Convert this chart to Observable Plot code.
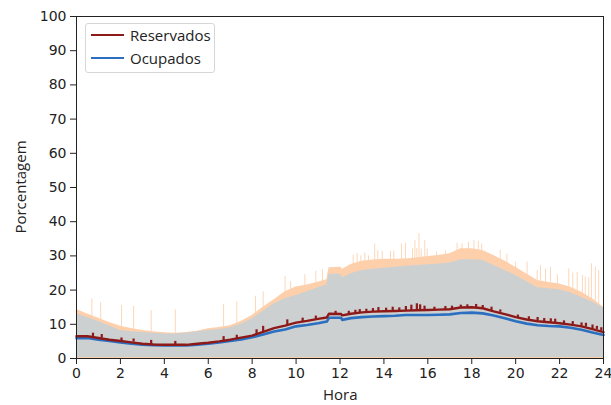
<!DOCTYPE html>
<html>
<head>
<meta charset="utf-8">
<script src="https://cdn.jsdelivr.net/npm/d3@7"></script>
<script src="https://cdn.jsdelivr.net/npm/@observablehq/plot@0.6"></script>
<style>
  html, body { margin: 0; padding: 0; background: #fff; }
  #wrap { position: relative; width: 611px; height: 405px; }
  .lab { position: absolute; font-family: "Open Sans", sans-serif; font-size: 15px; color: #222; white-space: nowrap; }
  #legend { position: absolute; left: 85px; top: 23px; width: 128px; height: 48px; border: 1px solid #d6d6d6; border-radius: 3px; background: rgba(255,255,255,0.85); }
  .row { position: absolute; left: 5px; height: 20px; display: flex; align-items: center; font-family: "Open Sans", sans-serif; font-size: 15px; color: #222; }
  .sw { width: 33px; height: 2.5px; margin-right: 6px; }
</style>
</head>
<body>
<div id="wrap"></div>
<script>
const hours = [0,0.5,1,1.5,2,2.5,3,3.5,4,4.5,5,5.5,6,6.5,7,7.5,8,8.5,9,9.5,10,10.5,11,11.4,11.5,12.05,12.1,12.5,13,13.5,14,14.5,15,15.5,16,16.5,17,17.5,18,18.5,19,19.5,20,20.5,21,21.5,22,22.5,23,23.5,24];
const reservedMax = [14.3,13.0,11.8,10.5,9.4,8.8,8.2,7.8,7.5,7.4,7.6,8.0,8.7,9.1,9.6,10.8,12.6,15.0,17.2,19.5,20.9,21.5,22.3,23.0,26.5,26.7,26.0,27.5,28.4,28.8,29.0,29.0,29.1,29.4,29.8,30.1,30.6,32.1,32.1,31.6,30.1,28.5,26.7,24.7,22.8,22.2,21.8,20.8,19.4,17.5,15.0];
const occupiedMax = [13.1,12.0,10.8,9.5,8.2,7.8,7.6,7.4,7.2,7.2,7.4,7.8,8.2,8.5,9.0,10.0,11.6,13.8,16.0,17.5,18.4,19.5,20.7,21.5,24.6,24.6,23.6,24.8,25.7,26.1,26.4,26.7,27.0,27.2,27.4,27.6,27.9,28.9,28.9,28.7,27.2,25.8,24.3,22.5,20.7,20.4,20.1,19.2,17.9,16.5,14.8];
const reserved = [6.5,6.5,6.0,5.5,5.1,4.7,4.3,4.1,4.0,4.0,4.0,4.3,4.6,5.0,5.5,6.1,6.7,7.8,8.9,9.6,10.5,11.0,11.6,12.0,13.1,13.0,12.6,13.1,13.5,13.7,13.8,13.9,14.0,14.1,14.2,14.3,14.4,14.9,15.0,14.7,13.8,13.0,12.1,11.4,10.9,10.6,10.3,9.9,9.4,8.6,7.7];
const occupied = [5.9,6.0,5.5,5.1,4.7,4.3,4.0,3.9,3.8,3.8,3.8,4.0,4.3,4.7,5.1,5.6,6.2,7.0,7.9,8.5,9.4,9.8,10.3,10.8,11.9,11.9,11.3,11.8,12.1,12.3,12.4,12.5,12.7,12.7,12.7,12.8,12.9,13.3,13.4,13.2,12.6,11.8,10.9,10.2,9.7,9.5,9.4,9.0,8.4,7.6,6.9];
// peach spikes: [hour, top]
const peakSpikes = [[0.7,17.4],[1.1,16.3],[2.05,15.5],[2.6,15.2],[3.4,14.0],[4.5,14.2],[6.7,15.8],[7.3,16.5],[8.15,18.2],[8.5,19.5],[9.5,24.0],[9.75,22.5],[10.4,24.5],[10.9,25.5],[11.2,26.0],[12.6,30.2],[12.78,30.6],[12.95,30.0],[13.13,30.9],[13.3,30.0],[13.58,33.5],[13.72,31.5],[13.92,31.3],[14.3,31.3],[14.45,31.4],[14.8,33.5],[14.98,33.7],[15.3,32.0],[15.41,34.5],[15.5,32.2],[15.6,36.5],[15.7,32.0],[15.86,34.5],[15.97,32.0],[16.4,31.2],[16.8,31.5],[17.33,33.7],[17.56,33.5],[17.85,34.0],[18.1,34.5],[18.3,34.2],[18.45,33.5],[19.3,31.6],[19.6,30.5],[20.0,28.2],[20.52,28.2],[20.98,25.7],[21.13,27.2],[21.36,26.2],[21.59,26.7],[21.9,24.5],[22.42,26.2],[22.6,25.0],[22.8,25.2],[23.04,24.3],[23.17,23.9],[23.33,23.6],[23.45,27.7],[23.63,26.7],[23.78,25.7]];
// red line spikes: [hour, base, top]
const redSpikes = [[0.75,6.4,7.4],[1.15,6.0,7.0],[2.05,5.1,6.0],[2.6,4.8,5.7],[3.4,4.2,5.3],[4.5,4.0,5.0],[6.7,5.1,6.4],[7.3,5.7,6.8],[8.2,7.0,8.4],[8.5,7.8,9.4],[9.6,9.7,11.3],[10.3,10.8,11.8],[10.9,11.5,12.4],[11.8,13.0,13.8],[12.4,13.0,13.8],[12.7,13.2,14.1],[12.9,13.4,14.3],[13.2,13.6,14.4],[13.5,13.7,14.6],[13.75,13.7,14.9],[14.1,13.8,14.7],[14.4,13.9,15.0],[14.7,13.9,14.8],[15.0,14.0,15.2],[15.25,14.0,15.6],[15.5,14.1,16.0],[15.65,14.1,15.7],[15.85,14.2,15.3],[16.3,14.2,15.0],[16.8,14.3,15.2],[17.1,14.5,15.3],[17.5,14.9,15.6],[17.8,15.0,15.7],[18.2,14.9,15.8],[18.5,14.7,15.5],[18.9,14.0,15.0],[19.3,13.5,14.2],[20.1,12.0,12.7],[20.6,11.4,12.2],[21.0,10.9,12.0],[21.3,10.7,11.7],[21.6,10.6,11.6],[21.8,10.5,11.5],[22.2,10.2,11.0],[22.6,9.9,10.8],[23.0,9.4,10.4],[23.2,9.2,10.3],[23.5,8.7,9.8],[23.7,8.5,9.4],[23.9,8.0,9.0]];
const xTicks = [0,2,4,6,8,10,12,14,16,18,20,22,24];
const yTicks = [0,10,20,30,40,50,60,70,80,90,100];
const seriesNames = ["Reservados", "Ocupados"];
const seriesColors = ["#8d1919", "#2b6fc0"];

const rows = hours.map((h, i) => ({h, rmax: reservedMax[i], omax: occupiedMax[i], r: reserved[i], o: occupied[i]}));
const spikes = peakSpikes.map(([h, t]) => ({h, t}));
const rsp = redSpikes.map(([h, b, t]) => ({h, b, t}));

const chart = Plot.plot({
  width: 611,
  height: 405,
  marginLeft: 76,
  marginRight: 8,
  marginTop: 16,
  marginBottom: 47,
  style: {fontFamily: "DejaVu Sans, sans-serif", fontSize: "14px", color: "#222", background: "#fff", overflow: "visible"},
  x: {domain: [0, 24]},
  y: {domain: [0, 100]},
  marks: [
    Plot.ruleX(spikes, {x: "h", y1: 0, y2: "t", stroke: "#fcc9a2", strokeWidth: 1, strokeOpacity: 0.75}),
    Plot.areaY(rows, {x: "h", y1: 0, y2: "rmax", fill: "#fdd0ab", curve: "linear"}),
    Plot.areaY(rows, {x: "h", y1: 0.3, y2: "omax", fill: "#cdd0d1", curve: "linear"}),
    Plot.line(rows, {x: "h", y: "o", stroke: seriesColors[1], strokeWidth: 2.6}),
    Plot.line(rows, {x: "h", y: "r", stroke: seriesColors[0], strokeWidth: 2.4}),
    Plot.ruleX(rsp, {x: "h", y1: "b", y2: "t", stroke: seriesColors[0], strokeWidth: 2.2}),
    Plot.frame({stroke: "#222", strokeWidth: 1}),
    Plot.axisX({ticks: xTicks, tickSize: 6, tickPadding: 4, fontSize: 14, label: null, tickFormat: d => d}),
    Plot.axisY({ticks: yTicks, tickSize: 6, tickPadding: 4, fontSize: 14, label: null, tickFormat: d => d})
  ]
});

const wrap = document.getElementById("wrap");
wrap.appendChild(chart);

const xl = document.createElement("div");
xl.className = "lab";
xl.textContent = "Hora";
xl.style.left = "323px"; xl.style.top = "384px";
wrap.appendChild(xl);

const yl = document.createElement("div");
yl.className = "lab";
yl.textContent = "Porcentagem";
yl.style.left = "20px"; yl.style.top = "187px";
yl.style.transform = "translate(-50%,-50%) rotate(-90deg)";
wrap.appendChild(yl);

const lg = document.createElement("div");
lg.id = "legend";
seriesNames.forEach((n, i) => {
  const r = document.createElement("div");
  r.className = "row";
  r.style.top = (i === 0 ? 1 : 24) + "px";
  const s = document.createElement("div");
  s.className = "sw"; s.style.background = seriesColors[i];
  r.appendChild(s);
  const t = document.createElement("span"); t.textContent = n;
  r.appendChild(t);
  lg.appendChild(r);
});
wrap.appendChild(lg);
</script>
</body>
</html>
